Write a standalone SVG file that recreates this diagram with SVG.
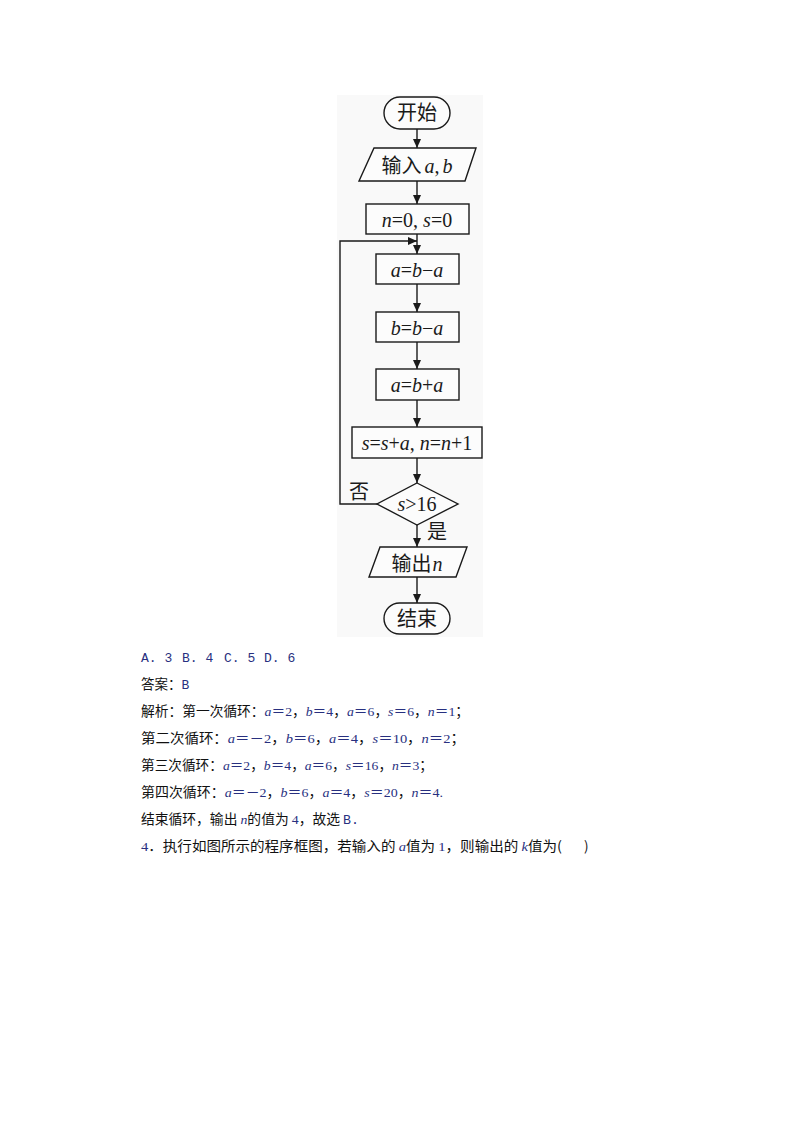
<svg xmlns="http://www.w3.org/2000/svg" width="794" height="1123" viewBox="0 0 794 1123">
<defs>
<marker id="ah" markerUnits="userSpaceOnUse" markerWidth="10" markerHeight="8" refX="9" refY="4" orient="auto">
<path d="M0,0 L9,4 L0,8 z" fill="#1a1a1a"/>
</marker>
<style>
.shape{fill:#fcfcfc;stroke:#1a1a1a;stroke-width:1.4}
.conn{fill:none;stroke:#1a1a1a;stroke-width:1.4}
.ft{font-family:"Liberation Serif","Noto Sans CJK SC",serif;font-size:20px;fill:#1a1a1a;text-anchor:middle}
.cjk{font-family:"Noto Sans CJK SC",sans-serif}
.it{font-style:italic}
.bt{font-family:"Noto Sans CJK SC",sans-serif;font-size:13.5px;fill:#111}
.as{fill:#283080;font-family:"Liberation Serif","Noto Sans CJK SC",serif}
.mo{font-family:"Liberation Mono",monospace;font-size:13px;fill:#283080}
.v{font-style:italic;fill:#283080;font-family:"Liberation Serif",serif}
</style>
</defs>
<rect x="337" y="95" width="146" height="542" fill="#f9f9f9"/>
<g id="connectors">
<line class="conn" x1="417" y1="129" x2="417" y2="148" marker-end="url(#ah)"/>
<line class="conn" x1="417" y1="181" x2="417" y2="204" marker-end="url(#ah)"/>
<line class="conn" x1="417" y1="234" x2="417" y2="254" marker-end="url(#ah)"/>
<line class="conn" x1="417" y1="284" x2="417" y2="312" marker-end="url(#ah)"/>
<line class="conn" x1="417" y1="342" x2="417" y2="369" marker-end="url(#ah)"/>
<line class="conn" x1="417" y1="400" x2="417" y2="427" marker-end="url(#ah)"/>
<line class="conn" x1="417" y1="458" x2="417" y2="483" marker-end="url(#ah)"/>
<line class="conn" x1="417" y1="525" x2="417" y2="547" marker-end="url(#ah)"/>
<line class="conn" x1="417" y1="577" x2="417" y2="603" marker-end="url(#ah)"/>
<polyline class="conn" points="378,504 340,504 340,241 417,241" marker-end="url(#ah)"/>
<text class="ft cjk" x="359" y="499" font-size="18">否</text>
<text class="ft cjk" x="437" y="539" font-size="18">是</text>
</g>
<g id="start">
<rect class="shape" x="384" y="97" width="66" height="32" rx="16" ry="16"/>
<text class="ft cjk" x="417" y="120">开始</text>
</g>
<g id="input">
<polygon class="shape" points="374,148 476,148 465,181 359,181"/>
<text class="ft" x="417" y="173" font-size="21"><tspan class="cjk">输入</tspan><tspan class="it" dx="3">a</tspan>,<tspan class="it" dx="3">b</tspan></text>
</g>
<g id="init">
<rect class="shape" x="366" y="204" width="103" height="30"/>
<text class="ft" x="417" y="227"><tspan class="it">n</tspan>=0, <tspan class="it">s</tspan>=0</text>
</g>
<g id="step1">
<rect class="shape" x="376" y="254" width="83" height="30"/>
<text class="ft" x="417" y="277" font-size="21"><tspan class="it">a</tspan>=<tspan class="it">b</tspan>−<tspan class="it">a</tspan></text>
</g>
<g id="step2">
<rect class="shape" x="376" y="312" width="83" height="30"/>
<text class="ft" x="417" y="335" font-size="21"><tspan class="it">b</tspan>=<tspan class="it">b</tspan>−<tspan class="it">a</tspan></text>
</g>
<g id="step3">
<rect class="shape" x="376" y="369" width="83" height="31"/>
<text class="ft" x="417" y="392" font-size="21"><tspan class="it">a</tspan>=<tspan class="it">b</tspan>+<tspan class="it">a</tspan></text>
</g>
<g id="step4">
<rect class="shape" x="352" y="427" width="130" height="31"/>
<text class="ft" x="417" y="450"><tspan class="it">s</tspan>=<tspan class="it">s</tspan>+<tspan class="it">a</tspan>, <tspan class="it">n</tspan>=<tspan class="it">n</tspan>+1</text>
</g>
<g id="decision">
<polygon class="shape" points="417,483 458,504 417,525 377,504"/>
<text class="ft" x="417" y="511"><tspan class="it">s</tspan>&gt;16</text>
</g>
<g id="output">
<polygon class="shape" points="380,547 467,547 456,577 369,577"/>
<text class="ft" x="417" y="571"><tspan class="cjk">输出</tspan><tspan class="it" dx="1">n</tspan></text>
</g>
<g id="end">
<rect class="shape" x="384" y="603" width="66" height="31" rx="15.5" ry="15.5"/>
<text class="ft cjk" x="417" y="626">结束</text>
</g>
<g id="text">
<text class="mo" x="141" y="662">A. 3</text>
<text class="mo" x="182" y="662">B. 4</text>
<text class="mo" x="224" y="662">C. 5</text>
<text class="mo" x="264" y="662">D. 6</text>
<text class="bt" x="141" y="689">答案：<tspan class="mo">B</tspan></text>
<text class="bt" x="141" y="716" textLength="328" lengthAdjust="spacingAndGlyphs">解析：第一次循环：<tspan class="v">a</tspan><tspan class="as">＝2</tspan>，<tspan class="v">b</tspan><tspan class="as">＝4</tspan>，<tspan class="v">a</tspan><tspan class="as">＝6</tspan>，<tspan class="v">s</tspan><tspan class="as">＝6</tspan>，<tspan class="v">n</tspan><tspan class="as">＝1</tspan>；</text>
<text class="bt" x="141" y="743" textLength="324" lengthAdjust="spacingAndGlyphs">第二次循环：<tspan class="v">a</tspan><tspan class="as">＝－2</tspan>，<tspan class="v">b</tspan><tspan class="as">＝6</tspan>，<tspan class="v">a</tspan><tspan class="as">＝4</tspan>，<tspan class="v">s</tspan><tspan class="as">＝10</tspan>，<tspan class="v">n</tspan><tspan class="as">＝2</tspan>；</text>
<text class="bt" x="141" y="770" textLength="292" lengthAdjust="spacingAndGlyphs">第三次循环：<tspan class="v">a</tspan><tspan class="as">＝2</tspan>，<tspan class="v">b</tspan><tspan class="as">＝4</tspan>，<tspan class="v">a</tspan><tspan class="as">＝6</tspan>，<tspan class="v">s</tspan><tspan class="as">＝16</tspan>，<tspan class="v">n</tspan><tspan class="as">＝3</tspan>；</text>
<text class="bt" x="141" y="797" textLength="302" lengthAdjust="spacingAndGlyphs">第四次循环：<tspan class="v">a</tspan><tspan class="as">＝－2</tspan>，<tspan class="v">b</tspan><tspan class="as">＝6</tspan>，<tspan class="v">a</tspan><tspan class="as">＝4</tspan>，<tspan class="v">s</tspan><tspan class="as">＝20</tspan>，<tspan class="v">n</tspan><tspan class="as">＝4.</tspan></text>
<text class="bt" x="141" y="824" textLength="218" lengthAdjust="spacingAndGlyphs">结束循环，输出 <tspan class="v">n</tspan>的值为 <tspan class="as">4</tspan>，故选 <tspan class="mo">B.</tspan></text>
<text class="bt" x="141" y="851" textLength="421" lengthAdjust="spacingAndGlyphs"><tspan class="as">4</tspan>．执行如图所示的程序框图，若输入的 <tspan class="v">a</tspan>值为 <tspan class="as">1</tspan>，则输出的 <tspan class="v">k</tspan>值为(</text>
<text class="bt" x="584" y="851">)</text>
</g>
</svg>
